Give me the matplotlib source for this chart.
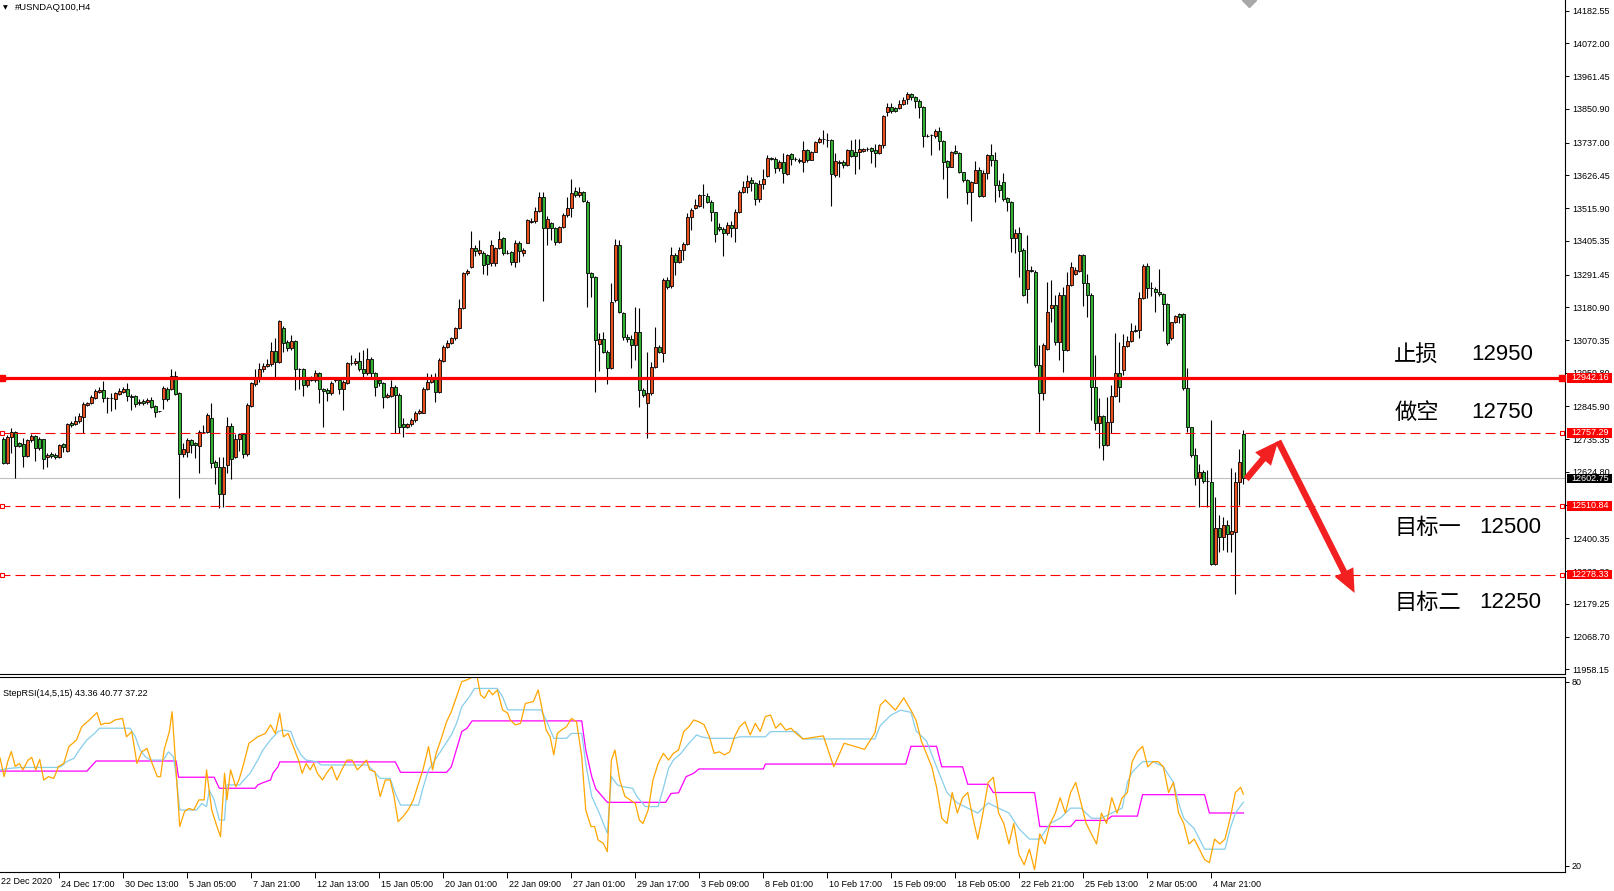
import matplotlib
matplotlib.use("Agg")
import matplotlib.pyplot as plt
import matplotlib.transforms as mtransforms
from matplotlib.patches import FancyArrowPatch, Rectangle

plt.rcParams['font.family'] = ['Liberation Sans', 'Noto Sans CJK SC', 'DejaVu Sans']

# ---------------- data: #USNDAQ100 H4 candles ----------------
opens = [
    12735, 12656, 12742, 12761, 12721, 12719, 12680, 12733, 12746, 12735,
    12735, 12675, 12686, 12683, 12676, 12719, 12697, 12789, 12787, 12798,
    12811, 12852, 12859, 12874, 12895, 12901, 12873, 12874, 12871, 12889,
    12895, 12904, 12882, 12882, 12856, 12865, 12862, 12868, 12847, 12829,
    12870, 12905, 12904, 12950, 12892, 12685, 12693, 12733, 12721, 12713,
    12761, 12761, 12806, 12658, 12640, 12552, 12647, 12780, 12674, 12735,
    12753, 12685, 12847, 12922, 12940, 12971, 12983, 12989, 13033, 12997,
    13110, 13064, 13044, 13067, 12971, 12971, 12917, 12935, 12935, 12958,
    12905, 12901, 12890, 12935, 12935, 12904, 12926, 12992, 12992, 13001,
    12971, 12958, 13005, 12958, 12935, 12924, 12877, 12881, 12913, 12885,
    12786, 12778, 12787, 12800, 12823, 12825, 12904, 12927, 12947, 12896,
    13001, 13048, 13059, 13076, 13110, 13177, 13296, 13316, 13380, 13365,
    13365, 13357, 13329, 13329, 13380, 13414, 13365, 13368, 13333, 13397,
    13365, 13399, 13469, 13473, 13506, 13552, 13447, 13464, 13447, 13403,
    13451, 13493, 13515, 13575, 13559, 13569, 13538, 13296, 13282, 13056,
    13073, 13031, 12975, 13205, 13391, 13160, 13082, 13073, 13053, 13096,
    12901, 12859, 12893, 12978, 13048, 13025, 13273, 13253, 13359, 13333,
    13374, 13393, 13485, 13517, 13524, 13560, 13557, 13538, 13502, 13451,
    13444, 13433, 13458, 13447, 13504, 13569, 13586, 13611, 13600, 13545,
    13597, 13625, 13684, 13682, 13650, 13670, 13631, 13697, 13683, 13680,
    13673, 13712, 13680, 13706, 13740, 13748, 13746, 13745, 13628, 13670,
    13670, 13660, 13711, 13704, 13704, 13708, 13717, 13718, 13712, 13701,
    13730, 13840, 13856, 13853, 13853, 13866, 13883, 13900, 13890, 13878,
    13858, 13760, 13762, 13760, 13776, 13744, 13675, 13656, 13709, 13703,
    13637, 13611, 13571, 13602, 13645, 13557, 13633, 13695, 13677, 13593,
    13604, 13550, 13535, 13414, 13431, 13374, 13244, 13307, 13301, 12986,
    12890, 13039, 13177, 13187, 13065, 13222, 13037, 13256, 13292, 13305,
    13356, 13262, 13222, 12913, 12791, 12814, 12716, 12795, 12881, 12958,
    12969, 13050, 13067, 13101, 13104, 13211, 13320, 13245, 13242, 13231,
    13226, 13192, 13076, 13130, 13157, 13157, 12907, 12775, 12682, 12603,
    12623, 12595, 12592, 12313, 12434, 12406, 12446, 12415, 12423, 12590,
    12752,
]
highs = [
    12744, 12750, 12772, 12764, 12727, 12738, 12737, 12753, 12749, 12744,
    12737, 12690, 12691, 12688, 12719, 12724, 12791, 12796, 12814, 12823,
    12861, 12862, 12883, 12904, 12911, 12932, 12879, 12890, 12896, 12907,
    12911, 12924, 12887, 12885, 12870, 12870, 12876, 12877, 12851, 12832,
    12915, 12913, 12971, 12967, 12896, 12721, 12738, 12737, 12727, 12767,
    12783, 12823, 12859, 12665, 12676, 12676, 12809, 12789, 12753, 12757,
    12757, 12856, 12930, 12971, 12992, 12992, 13005, 13065, 13076, 13138,
    13118, 13070, 13087, 13070, 12975, 12975, 12947, 12949, 12969, 12962,
    12908, 12907, 12933, 12947, 12941, 12935, 12997, 13020, 13008, 13031,
    13037, 13042, 13014, 12963, 12938, 12928, 12890, 12935, 12918, 12890,
    12806, 12791, 12806, 12832, 12836, 12910, 12960, 12956, 12960, 13008,
    13053, 13070, 13082, 13115, 13208, 13300, 13309, 13440, 13391, 13408,
    13372, 13361, 13408, 13386, 13440, 13417, 13374, 13372, 13408, 13406,
    13380, 13478, 13481, 13521, 13569, 13569, 13489, 13470, 13453, 13455,
    13498, 13552, 13614, 13588, 13586, 13575, 13543, 13300, 13287, 13093,
    13098, 13037, 13262, 13410, 13408, 13166, 13091, 13087, 13183, 13177,
    12907, 13031, 12997, 13115, 13053, 13279, 13284, 13383, 13363, 13383,
    13402, 13500, 13515, 13545, 13563, 13597, 13566, 13543, 13504, 13464,
    13453, 13470, 13473, 13512, 13577, 13606, 13628, 13620, 13605, 13611,
    13647, 13694, 13687, 13690, 13678, 13701, 13699, 13703, 13690, 13684,
    13744, 13714, 13710, 13744, 13757, 13780, 13771, 13748, 13703, 13678,
    13678, 13714, 13746, 13748, 13748, 13718, 13723, 13723, 13732, 13732,
    13831, 13872, 13870, 13858, 13881, 13892, 13907, 13906, 13894, 13883,
    13861, 13766, 13766, 13782, 13789, 13746, 13678, 13710, 13729, 13705,
    13639, 13613, 13608, 13676, 13654, 13645, 13699, 13732, 13706, 13611,
    13633, 13554, 13541, 13444, 13453, 13380, 13425, 13320, 13307, 13054,
    13059, 13267, 13273, 13222, 13234, 13251, 13301, 13335, 13318, 13361,
    13361, 13293, 13228, 13020, 12873, 12817, 12879, 12918, 13093, 13065,
    13091, 13084, 13127, 13121, 13234, 13327, 13332, 13267, 13251, 13309,
    13228, 13194, 13132, 13155, 13160, 13160, 12975, 12778, 12705, 12650,
    12631, 12631, 12800, 12541, 12479, 12474, 12462, 12637, 12626, 12702,
    12766,
]
lows = [
    12652, 12652, 12688, 12605, 12708, 12643, 12676, 12727, 12662, 12699,
    12636, 12643, 12673, 12667, 12673, 12693, 12693, 12778, 12782, 12791,
    12755, 12847, 12854, 12872, 12890, 12862, 12823, 12832, 12838, 12885,
    12890, 12863, 12834, 12845, 12851, 12850, 12854, 12840, 12809, 12827,
    12836, 12865, 12901, 12885, 12536, 12676, 12676, 12688, 12671, 12622,
    12755, 12755, 12637, 12584, 12502, 12507, 12622, 12602, 12671, 12697,
    12671, 12679, 12845, 12915, 12930, 12963, 12978, 12983, 12944, 12992,
    13031, 13034, 13037, 12901, 12904, 12881, 12913, 12933, 12930, 12856,
    12778, 12865, 12885, 12930, 12887, 12834, 12922, 12986, 12986, 12967,
    12944, 12952, 12947, 12881, 12915, 12842, 12873, 12879, 12755, 12757,
    12742, 12772, 12780, 12795, 12820, 12823, 12901, 12924, 12862, 12890,
    12997, 13044, 13056, 13070, 13106, 13174, 13290, 13312, 13354, 13357,
    13293, 13290, 13320, 13320, 13377, 13357, 13361, 13325, 13316, 13335,
    13354, 13397, 13464, 13464, 13503, 13203, 13391, 13408, 13391, 13397,
    13448, 13487, 13485, 13554, 13554, 13536, 13183, 13217, 12896, 12967,
    13025, 12922, 12971, 13200, 13163, 13070, 13065, 12975, 13003, 12845,
    12879, 12738, 12885, 12975, 13025, 12997, 13241, 13245, 13290, 13329,
    13341, 13391, 13442, 13512, 13521, 13515, 13534, 13473, 13402, 13440,
    13354, 13425, 13419, 13402, 13498, 13566, 13568, 13575, 13526, 13538,
    13579, 13622, 13678, 13636, 13642, 13602, 13628, 13661, 13676, 13669,
    13639, 13673, 13678, 13704, 13737, 13732, 13721, 13524, 13620, 13622,
    13650, 13658, 13690, 13631, 13647, 13705, 13710, 13669, 13654, 13699,
    13718, 13827, 13838, 13842, 13849, 13864, 13867, 13881, 13853, 13819,
    13723, 13755, 13695, 13751, 13712, 13613, 13549, 13654, 13699, 13633,
    13605, 13530, 13473, 13599, 13554, 13554, 13613, 13658, 13538, 13554,
    13541, 13507, 13369, 13363, 13284, 13219, 13196, 13300, 12980, 12761,
    12868, 13037, 13132, 13053, 13003, 12963, 13033, 13253, 13290, 13301,
    13185, 13149, 12800, 12766, 12705, 12665, 12712, 12755, 12879, 12862,
    12952, 13048, 13065, 13099, 13076, 13208, 13211, 13219, 13166, 13219,
    13102, 13053, 13070, 13127, 13127, 12902, 12761, 12676, 12581, 12507,
    12586, 12507, 12310, 12310, 12356, 12361, 12356, 12356, 12213, 12513,
    12584,
]
closes = [
    12656, 12742, 12761, 12713, 12713, 12680, 12733, 12746, 12704, 12704,
    12670, 12683, 12680, 12675, 12715, 12710, 12787, 12784, 12798, 12814,
    12854, 12856, 12879, 12897, 12901, 12873, 12874, 12874, 12890, 12898,
    12904, 12880, 12877, 12854, 12862, 12856, 12868, 12845, 12828, 12829,
    12909, 12870, 12950, 12889, 12685, 12701, 12733, 12716, 12715, 12761,
    12761, 12817, 12654, 12640, 12552, 12642, 12780, 12667, 12735, 12753,
    12685, 12850, 12924, 12941, 12971, 12983, 12989, 13034, 12997, 13136,
    13061, 13044, 13067, 12971, 12971, 12917, 12937, 12941, 12958, 12904,
    12897, 12892, 12926, 12939, 12904, 12927, 12992, 12992, 13001, 12971,
    12958, 13005, 12958, 12913, 12924, 12877, 12885, 12913, 12885, 12775,
    12778, 12787, 12800, 12825, 12831, 12906, 12927, 12941, 12896, 13003,
    13048, 13059, 13076, 13110, 13177, 13296, 13303, 13380, 13372, 13374,
    13323, 13327, 13390, 13380, 13410, 13365, 13365, 13333, 13397, 13372,
    13374, 13476, 13473, 13506, 13552, 13447, 13478, 13447, 13403, 13451,
    13493, 13515, 13566, 13561, 13569, 13540, 13296, 13282, 13070, 13073,
    13031, 12975, 13200, 13391, 13166, 13082, 13073, 13053, 13096, 12901,
    12885, 12893, 12978, 13048, 13031, 13273, 13248, 13359, 13335, 13374,
    13393, 13485, 13509, 13526, 13560, 13560, 13538, 13502, 13427, 13444,
    13433, 13458, 13447, 13504, 13571, 13586, 13608, 13600, 13545, 13597,
    13615, 13684, 13683, 13650, 13670, 13633, 13694, 13683, 13683, 13674,
    13712, 13680, 13704, 13740, 13748, 13748, 13746, 13630, 13674, 13667,
    13661, 13711, 13693, 13693, 13717, 13714, 13717, 13710, 13701, 13728,
    13827, 13856, 13845, 13845, 13867, 13881, 13900, 13890, 13878, 13858,
    13760, 13760, 13762, 13776, 13744, 13673, 13656, 13705, 13701, 13637,
    13611, 13571, 13604, 13645, 13557, 13633, 13695, 13677, 13593, 13576,
    13548, 13535, 13414, 13431, 13372, 13222, 13307, 13305, 12986, 12890,
    13054, 13166, 13187, 13065, 13222, 13037, 13256, 13318, 13307, 13356,
    13262, 13222, 12913, 12791, 12814, 12716, 12795, 12881, 12958, 12913,
    13050, 13067, 13101, 13104, 13211, 13320, 13245, 13245, 13231, 13226,
    13192, 13059, 13130, 13151, 13149, 12907, 12775, 12682, 12603, 12623,
    12595, 12595, 12313, 12434, 12404, 12446, 12415, 12425, 12590, 12657,
    12602.75,
]

# StepRSI(14,5,15) readings: (bar position, value)
rsi_fast = [
    (-0.8, 55.1), (0.2, 49.1), (1.1, 54.0), (2.0, 57.3), (3.0, 52.4), (4.0, 53.4), (4.9, 51.3),
    (6.2, 54.5), (7.1, 55.4), (8.1, 51.3), (9.1, 54.7), (10.1, 48.0), (11.3, 49.1), (12.6, 48.5),
    (13.8, 52.4), (15.1, 53.4), (16.4, 58.9), (18.3, 61.1), (19.6, 65.4), (21.5, 67.6), (23.4, 70.0),
    (24.4, 66.0), (25.3, 66.5), (26.6, 66.5), (27.9, 67.6), (29.8, 68.1), (30.8, 62.1), (32.1, 63.8),
    (33.4, 53.4), (34.6, 57.2), (35.9, 58.3), (37.2, 53.4), (38.5, 49.1), (39.3, 49.1), (40.2, 57.8),
    (41.5, 63.8), (42.2, 70.3), (42.9, 56.7), (44.1, 32.8), (45.3, 37.7), (46.4, 38.7), (47.6, 38.2),
    (48.9, 41.5), (50.2, 41.5), (50.8, 51.3), (52.1, 38.2), (53.4, 32.8), (54.3, 29.5), (55.3, 50.2),
    (55.9, 41.5), (56.8, 51.3), (58.1, 45.8), (58.9, 48.0), (60.1, 53.4), (61.4, 60.0), (63.6, 62.1),
    (65.5, 63.2), (66.8, 66.0), (68.0, 63.2), (69.1, 69.8), (70.0, 62.1), (71.2, 63.2), (72.5, 58.9),
    (73.8, 54.5), (74.7, 50.2), (75.7, 53.4), (76.7, 51.3), (77.6, 53.4), (78.5, 50.2), (79.8, 48.0),
    (80.8, 50.2), (82.1, 52.4), (83.4, 48.0), (84.6, 51.3), (85.9, 54.5), (87.2, 54.5), (88.5, 51.3),
    (89.7, 52.9), (90.8, 54.5), (91.6, 51.3), (92.9, 50.7), (94.2, 42.6), (95.5, 48.0), (96.7, 48.0),
    (97.6, 43.1), (98.7, 34.4), (99.9, 36.0), (101.2, 38.2), (102.5, 41.5), (103.8, 46.9), (105.0, 51.8),
    (106.3, 58.9), (107.3, 51.3), (108.2, 56.7), (109.5, 61.6), (110.8, 67.0), (112.0, 70.3), (113.3, 75.2),
    (114.6, 80.1), (115.9, 80.7), (117.2, 81.5), (118.4, 82.0), (119.3, 75.8), (120.3, 74.7), (121.4, 77.4),
    (122.3, 75.8), (123.5, 77.4), (124.8, 70.9), (126.1, 69.8), (126.7, 67.6), (128.0, 66.0), (129.3, 66.5),
    (130.5, 73.0), (132.5, 73.6), (133.7, 77.4), (134.4, 73.0), (135.7, 64.3), (136.7, 62.1), (137.6, 56.2),
    (138.5, 63.2), (139.5, 64.3), (140.8, 65.4), (142.0, 68.1), (143.3, 67.0), (144.6, 55.6), (145.6, 38.2),
    (146.9, 32.8), (147.8, 32.8), (148.7, 28.4), (150.0, 27.3), (151.0, 24.6), (152.0, 54.5), (152.9, 57.8),
    (154.1, 48.0), (155.4, 42.6), (156.7, 41.5), (158.0, 40.3), (159.0, 34.9), (159.9, 33.8), (161.2, 38.2),
    (162.4, 48.0), (163.7, 53.4), (165.0, 56.7), (166.3, 54.5), (167.5, 56.7), (168.8, 57.8), (170.1, 63.8),
    (171.4, 65.4), (172.6, 67.6), (173.9, 67.0), (175.2, 66.0), (176.5, 62.1), (177.7, 56.7), (179.0, 57.2),
    (180.3, 56.2), (181.6, 57.2), (182.8, 62.1), (184.1, 65.4), (185.4, 67.0), (186.7, 62.7), (188.0, 66.5),
    (189.2, 63.8), (190.5, 68.7), (191.8, 69.2), (193.1, 64.9), (194.3, 66.5), (195.6, 64.3), (196.9, 64.9),
    (198.2, 63.2), (199.9, 61.4), (205.0, 62.4), (207.6, 52.3), (210.2, 60.0), (215.3, 58.0), (217.9, 63.4),
    (219.2, 72.4), (220.5, 74.1), (223.0, 70.8), (225.1, 74.8), (226.9, 70.8), (228.2, 67.4), (229.5, 60.7),
    (232.1, 52.3), (233.3, 45.6), (234.6, 35.5), (235.9, 33.8), (237.2, 43.9), (238.5, 37.2), (239.8, 42.2),
    (241.1, 43.9), (242.4, 35.5), (243.6, 28.7), (244.9, 37.2), (246.2, 47.2), (247.5, 48.9), (248.8, 37.2),
    (250.1, 33.8), (251.4, 27.1), (252.6, 33.8), (253.9, 23.7), (255.2, 20.3), (256.5, 25.4), (257.8, 18.7),
    (259.1, 30.4), (260.4, 27.1), (261.7, 33.8), (263.0, 37.2), (264.2, 42.2), (265.5, 37.2), (266.8, 43.9),
    (268.1, 47.2), (269.4, 40.5), (270.7, 33.8), (272.0, 30.4), (273.3, 27.1), (274.5, 37.2), (275.8, 33.8),
    (277.1, 42.2), (278.4, 37.2), (279.7, 42.2), (281.0, 43.9), (282.2, 54.0), (283.5, 57.3), (284.8, 59.0),
    (286.1, 52.3), (287.4, 54.0), (288.7, 54.0), (290.0, 52.3), (291.3, 43.9), (292.5, 47.2), (293.8, 37.2),
    (295.1, 33.8), (296.4, 27.1), (297.7, 28.7), (299.0, 25.4), (300.3, 22.0), (301.5, 21.0), (302.8, 28.7),
    (304.1, 27.1), (305.4, 28.7), (306.7, 35.5), (308.0, 43.9), (309.3, 45.6), (310.0, 43.36),
]
rsi_slow = [
    (-0.8, 51.3), (1.7, 51.8), (4.3, 52.1), (13.2, 52.1), (14.5, 52.4), (15.8, 54.0), (17.7, 55.1),
    (19.0, 57.8), (20.9, 61.1), (22.8, 63.2), (24.0, 64.9), (31.7, 64.9), (33.0, 62.1), (34.2, 57.8),
    (35.5, 55.6), (36.8, 54.5), (40.0, 54.5), (41.3, 57.2), (42.5, 55.6), (43.2, 49.6), (44.1, 38.2),
    (48.3, 38.2), (49.6, 40.3), (50.8, 39.3), (51.5, 44.7), (52.7, 41.5), (54.0, 34.9), (55.3, 34.9),
    (55.9, 46.4), (59.1, 46.4), (60.1, 48.0), (61.7, 50.2), (63.6, 54.5), (64.9, 57.8), (66.8, 61.1),
    (68.7, 63.8), (70.0, 64.3), (71.9, 63.8), (73.1, 59.4), (74.4, 56.2), (75.7, 54.5), (78.2, 54.0),
    (79.5, 52.9), (91.0, 52.9), (92.3, 51.3), (94.2, 48.5), (96.7, 48.5), (98.0, 43.6), (99.3, 39.8),
    (103.8, 39.8), (105.0, 45.8), (106.3, 51.3), (108.2, 55.1), (110.1, 58.9), (112.0, 62.7), (113.3, 66.5),
    (114.6, 71.9), (116.5, 75.2), (117.8, 77.9), (123.5, 77.9), (124.8, 75.2), (126.1, 70.9), (134.4, 70.9),
    (135.7, 67.6), (137.6, 61.6), (140.8, 61.6), (142.0, 63.2), (144.6, 63.2), (145.6, 53.4), (147.1, 42.6),
    (149.0, 37.1), (151.0, 30.6), (152.0, 49.1), (153.5, 46.4), (154.8, 45.8), (157.3, 45.3), (158.4, 42.6),
    (160.5, 39.3), (163.7, 39.3), (165.0, 45.3), (166.3, 51.8), (167.5, 54.5), (169.4, 56.7), (171.4, 60.0),
    (173.3, 62.7), (174.5, 62.1), (176.5, 61.6), (182.8, 61.6), (184.1, 62.1), (190.5, 62.1), (191.8, 63.8),
    (198.2, 63.8), (199.9, 61.4), (217.9, 61.4), (219.2, 65.7), (221.8, 69.1), (224.3, 70.8), (226.9, 70.1),
    (228.2, 64.0), (230.8, 60.7), (233.3, 52.3), (235.9, 43.9), (238.5, 40.5), (241.1, 38.8), (243.6, 37.2),
    (246.2, 40.5), (248.8, 38.8), (251.4, 37.2), (253.9, 32.1), (256.5, 28.7), (259.1, 28.7), (261.7, 33.8),
    (264.2, 35.5), (266.8, 38.8), (269.4, 38.8), (272.0, 35.5), (274.5, 35.5), (277.1, 37.2), (279.7, 38.8),
    (281.0, 47.2), (282.2, 50.6), (284.8, 54.0), (287.4, 54.0), (290.0, 52.3), (292.5, 47.2), (293.8, 40.5),
    (295.1, 35.5), (297.7, 32.1), (300.3, 25.4), (302.8, 25.4), (305.4, 25.4), (306.7, 32.1), (308.0, 37.2),
    (310.0, 40.77),
]
rsi_step = [
    (-0.8, 50.9), (20.9, 50.9), (23.2, 54.2), (43.2, 54.2), (43.8, 48.9), (52.7, 48.9), (54.0, 45.3),
    (63.0, 45.3), (63.6, 46.4), (64.9, 47.1), (66.8, 48.0), (67.4, 50.2), (68.7, 52.4), (69.1, 53.9),
    (98.0, 53.9), (99.3, 50.5), (110.8, 50.5), (112.0, 52.3), (114.6, 63.8), (115.9, 64.9), (117.2, 67.3),
    (144.6, 67.3), (145.6, 57.8), (147.1, 49.1), (148.1, 45.1), (151.0, 40.7), (165.6, 40.7), (166.9, 43.6),
    (168.8, 43.8), (170.7, 49.1), (172.6, 50.2), (173.9, 51.6), (190.0, 51.6), (190.5, 53.2), (225.6, 53.2),
    (226.9, 59.0), (233.3, 59.0), (234.6, 52.3), (239.8, 52.3), (241.1, 46.6), (246.2, 46.6), (247.5, 43.9),
    (257.8, 43.9), (259.1, 32.8), (266.8, 32.8), (268.1, 34.8), (275.8, 34.8), (277.1, 36.2), (283.5, 36.2),
    (284.8, 43.2), (300.3, 43.2), (301.5, 37.22), (310.0, 37.22),
]

# price levels drawn on the chart
stop_level = 12942.16
entry_level = 12757.29
target1_level = 12510.84
target2_level = 12278.33
bid_level = 12602.75

price_ticks = [14182.55, 14072.00, 13961.45, 13850.90, 13737.00, 13626.45, 13515.90,
               13405.35, 13291.45, 13180.90, 13070.35, 12959.80, 12845.90, 12735.35,
               12624.80, 12514.25, 12400.35, 12289.80, 12179.25, 12068.70, 11958.15]

time_ticks = [14, 30, 46, 62, 78, 94, 110, 126, 142, 158, 174, 190, 206, 222, 238, 254, 270, 286, 302]
time_labels = ["24 Dec 17:00", "30 Dec 13:00", "5 Jan 05:00", "7 Jan 21:00", "12 Jan 13:00",
               "15 Jan 05:00", "20 Jan 01:00", "22 Jan 09:00", "27 Jan 01:00", "29 Jan 17:00",
               "3 Feb 09:00", "8 Feb 01:00", "10 Feb 17:00", "15 Feb 09:00", "18 Feb 05:00",
               "22 Feb 21:00", "25 Feb 13:00", "2 Mar 05:00", "4 Mar 21:00"]

note_names = ["止损", "做空", "目标一", "目标二"]
note_values = ["12950", "12750", "12500", "12250"]
note_prices = [13019.8, 12823.9, 12435.5, 12182.2]

# planned path of the trade (bar position, price)
arrow_path = [(310.7, 12601), (318.7, 12729), (337.8, 12216)]

# ---------------- figure ----------------
W, H = 1614, 891
fig = plt.figure(figsize=(W / 100, H / 100), dpi=100)
fig.patch.set_facecolor('white')
ax = fig.add_axes([0, 1 - 674 / H, 1565 / W, 674 / H])
ax2 = fig.add_axes([0, 1 - 872 / H, 1565 / W, 195 / H])

xlim = (-0.83, 390.4)
ax.set_xlim(*xlim)
ax.set_ylim(11942.4, 14218.7)

bars = list(range(len(closes)))
ax.vlines(bars, lows, highs, color='black', lw=0.8, zorder=2)
body_colors = ['#E8501E' if c >= o else '#33B033' for o, c in zip(opens, closes)]
ax.bar(bars, [c - o for o, c in zip(opens, closes)], bottom=opens, width=0.72,
       color=body_colors, edgecolor='black', linewidth=0.6, zorder=3)

# horizontal levels
ax.axhline(bid_level, color='#C0C0C0', lw=0.8, zorder=1)
ax.axhline(stop_level, color='#FF0000', lw=2.3, zorder=4)
ax.plot([-0.3, 389.7], [stop_level, stop_level], 's', ms=4, mfc='#FF0000', mec='#FF0000',
        clip_on=False, zorder=5)
for lv in (entry_level, target1_level, target2_level):
    ax.axhline(lv, color='#FF0000', lw=0.8, linestyle=(0, (9, 4.5)), zorder=4)
    ax.plot([-0.3, 389.7], [lv, lv], 's', ms=3.5, mfc='white', mec='#FF0000', mew=0.8,
            clip_on=False, zorder=5)

# axes look
for s in ('top', 'left'):
    ax.spines[s].set_visible(False)
for s in ('right', 'bottom'):
    ax.spines[s].set_linewidth(0.8)
ax.set_xticks([])
ax.yaxis.tick_right()
ax.set_yticks(price_ticks)
ax.set_yticklabels([f"{v:.2f}" for v in price_ticks], fontsize=6.5)
ax.tick_params(axis='y', length=3, width=0.7, pad=2, direction='out')

# price boxes on the axis
trans = mtransforms.blended_transform_factory(ax.transAxes, ax.transData)
for lv, bg in [(stop_level, '#FF0000'), (entry_level, '#FF0000'), (target1_level, '#FF0000'),
               (target2_level, '#FF0000'), (bid_level, 'black')]:
    ax.add_patch(Rectangle((1567 / 1565, lv - 16.5), 45 / 1565, 33, transform=trans,
                           fc=bg, ec='none', clip_on=False, zorder=9))
    ax.text(1571 / 1565, lv, f"{lv:.2f}", transform=trans, color='white', fontsize=6.5,
            va='center', ha='left', clip_on=False, zorder=10)

# annotations
for name, val, py in zip(note_names, note_values, note_prices):
    ax.text(347.7, py, name, fontsize=16, va='center', ha='left', zorder=6)
    vx = 366.9 if len(name) == 2 else 369.0
    ax.text(vx, py, val, fontsize=16, va='center', ha='left', zorder=6)

for (x0, y0), (x1, y1) in zip(arrow_path[:-1], arrow_path[1:]):
    ax.add_patch(FancyArrowPatch((x0, y0), (x1, y1),
                                 arrowstyle='simple,head_length=1.3,head_width=1.15,tail_width=0.36',
                                 mutation_scale=13, color='#F22020', lw=0,
                                 shrinkA=0, shrinkB=0, zorder=6))

# chart shift marker
ax.plot([311.4], [14218.7], marker='D', ms=7, color='#A8A8A8', zorder=6)

# title
fig.text(3 / W, 1 - 8 / H, "▼", fontsize=4.5, family='DejaVu Sans', va='center')
fig.text(15 / W, 1 - 8 / H, "#USNDAQ100,H4", fontsize=6.8, va='center')

# ---------------- StepRSI panel ----------------
ax2.set_xlim(*xlim)
ax2.set_ylim(17.95, 81.63)
ax2.plot(*zip(*rsi_step), color='#FF00FF', lw=0.9)
ax2.plot(*zip(*rsi_slow), color='#87CEEB', lw=0.9)
ax2.plot(*zip(*rsi_fast), color='#FFA500', lw=0.9)

ax2.spines['left'].set_visible(False)
for s in ('top', 'right', 'bottom'):
    ax2.spines[s].set_linewidth(0.8)
ax2.yaxis.tick_right()
ax2.set_yticks([20, 80])
ax2.set_yticklabels(["20", "80"], fontsize=6.5)
ax2.tick_params(axis='y', length=3, width=0.7, pad=2)
ax2.set_xticks(time_ticks)
ax2.set_xticklabels(time_labels, fontsize=6.5, ha='left')
ax2.tick_params(axis='x', length=4, width=0.7, pad=1.5)
shift = mtransforms.ScaledTranslation(2 / 100, 0, fig.dpi_scale_trans)
for lab in ax2.get_xticklabels():
    lab.set_transform(lab.get_transform() + shift)
fig.text(1 / W, 1 - 881 / H, "22 Dec 2020", fontsize=6.5, va='center', ha='left')

ax2.text(3 / 1565, (872 - 693) / 195, "StepRSI(14,5,15) 43.36 40.77 37.22",
         transform=ax2.transAxes, fontsize=6.5, va='center', ha='left')

fig.savefig("out.png", dpi=100)
